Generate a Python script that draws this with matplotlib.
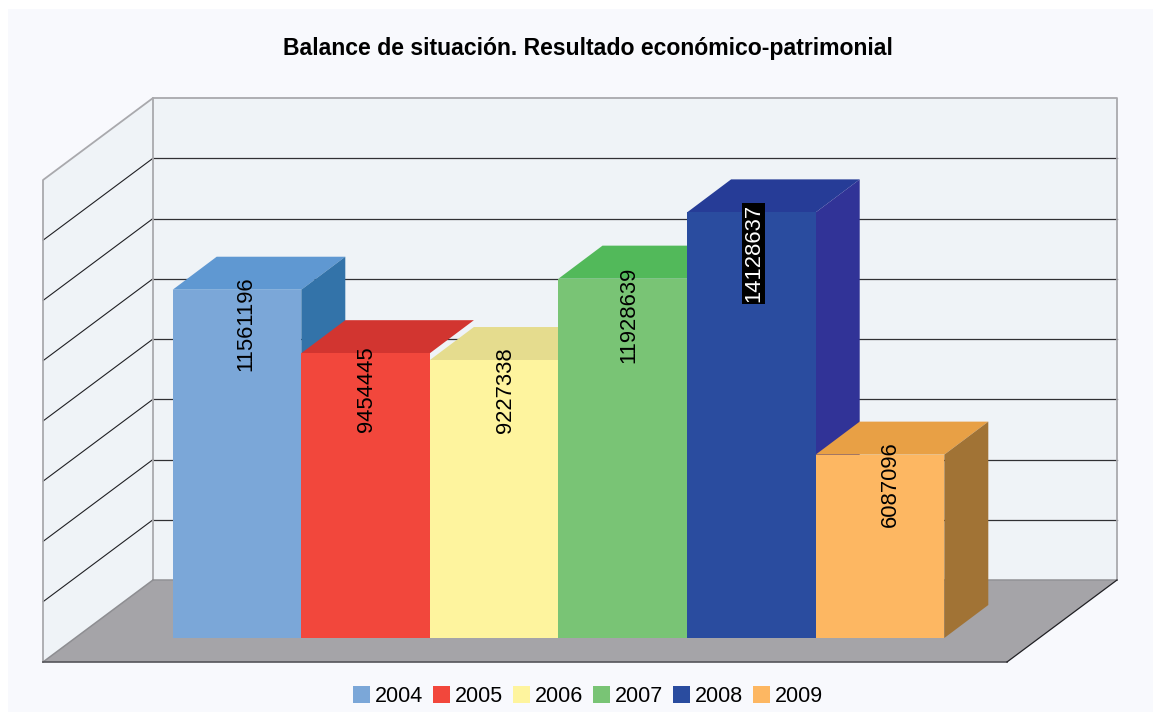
from matplotlib import pyplot as plt
from matplotlib.patches import Patch, Polygon, Rectangle
import numpy as np

years = ['2004', '2005', '2006', '2007', '2008', '2009']
values = [11561196, 9454445, 9227338, 11928639, 14128637, 6087096]
front_cols = ['#7BA7D8', '#F2473C', '#FEF49E', '#79C475', '#2A4C9F', '#FDB762']
top_cols = ['#5F98D2', '#D23530', '#E5DC8E', '#52B95A', '#263C97', '#E8A045']
side_cols = ['#3373A9', None, None, None, '#313397', '#A17335']
grid_vals = np.arange(0, 16000001, 2000000)

W, H = 1153, 712
bar_w = 128.6
px_v = 2000000 / 60.25  # value per pixel
x0, y0 = 172.7, 638     # front foot of the first bar, pixels

plt.rcParams['font.family'] = ['Liberation Sans']

fig = plt.figure(figsize=(W / 100, H / 100), dpi=100, facecolor='white')
axe = fig.add_axes([0, 0, 1, 1])
axe.set_xlim(-x0 / bar_w, (W - x0) / bar_w)
axe.set_ylim((y0 - H) * px_v, y0 * px_v)
axe.axis('off')


def X(p):
    return (p - x0) / bar_w


def Y(p):
    return (y0 - p) * px_v


# depth of the bars
dx, dy = 44 / bar_w, 33 * px_v

axe.add_patch(Rectangle((X(8), Y(712)), (W - 8) / bar_w, 703 * px_v, fc='#F8F9FD', ec='none', zorder=0))

# walls and floor
wall_l, wall_r = X(153), X(1117)
side_l = X(43)
back0, top = Y(580), Y(580) + grid_vals[-1]
front0 = Y(662)
axe.add_patch(Polygon([(wall_l, back0), (wall_r, back0), (wall_r, top), (wall_l, top)],
                      fc='#EFF3F7', ec='none', zorder=1))
axe.add_patch(Polygon([(side_l, front0), (wall_l, back0), (wall_l, top), (side_l, front0 + grid_vals[-1])],
                      fc='#EFF3F7', ec='none', zorder=1))
axe.add_patch(Polygon([(side_l, front0), (X(1007), front0), (wall_r, back0), (wall_l, back0)],
                      fc='#A5A4A8', ec='none', zorder=2))
for v in grid_vals[1:-1]:
    axe.plot([wall_l, wall_r], [back0 + v, back0 + v], color='#303034', lw=0.9, zorder=3)
    axe.plot([side_l, wall_l], [front0 + v, back0 + v], color='#202024', lw=0.8, zorder=3)
edge = dict(color='#A9A9AD', lw=1.3, zorder=3)
axe.plot([side_l, side_l, wall_l, wall_r, wall_r], [front0, front0 + grid_vals[-1], top, top, back0], **edge)
axe.plot([wall_l, wall_l], [back0, top], **edge)
axe.plot([wall_l, wall_r], [back0, back0], color='#929296', lw=1.1, zorder=3)
axe.plot([side_l, wall_l], [front0, back0], color='#8E8E92', lw=1.1, zorder=3)
axe.plot([side_l, X(1007)], [front0, front0], color='#55555A', lw=1.2, zorder=3)
axe.plot([X(1007), wall_r], [front0, back0], color='#202024', lw=0.9, zorder=3)

# bars, left to right so that each one hides the previous
xs = np.arange(len(values))
for i in xs:
    v = values[i]
    z = 4 + i
    axe.bar(i, v, width=1, align='edge', color=front_cols[i], zorder=z + 0.2)
    axe.add_patch(Polygon([(i, v), (i + dx, v + dy), (i + 1 + dx, v + dy), (i + 1, v)],
                          fc=top_cols[i], ec='none', zorder=z))
    if side_cols[i] is not None:
        axe.add_patch(Polygon([(i + 1, 0), (i + 1 + dx, dy), (i + 1 + dx, v + dy), (i + 1, v)],
                              fc=side_cols[i], ec='none', zorder=z))

# value labels
lab_dx = [9, 1, 11, 6, 2, 10]
lab_dy = [13, 7, 13, 12, 8, 13]
for i in xs:
    box = dict(fc='black', ec='none', pad=1) if i == 4 else None
    axe.text(i + 0.5 + lab_dx[i] / bar_w, values[i] + lab_dy[i] * px_v, str(values[i]),
             rotation=90, ha='center', va='top', fontsize=15.8,
             color='white' if i == 4 else 'black', bbox=box, zorder=20)

fig.text(588 / W, 1 - 48.5 / H, 'Balance de situación. Resultado económico-patrimonial',
         ha='center', va='center', fontsize=16.6, fontweight='bold', color='black')

handles = [Patch(fc=c, ec='none') for c in front_cols]
fig.legend(handles, years, loc='center', bbox_to_anchor=(588 / W, 1 - 696.5 / H), ncol=6,
           frameon=False, fontsize=15.5, handlelength=0.79, handleheight=0.79,
           handletextpad=0.23, columnspacing=0.46, borderpad=0, borderaxespad=0)

fig.savefig('out.png', dpi=100)
